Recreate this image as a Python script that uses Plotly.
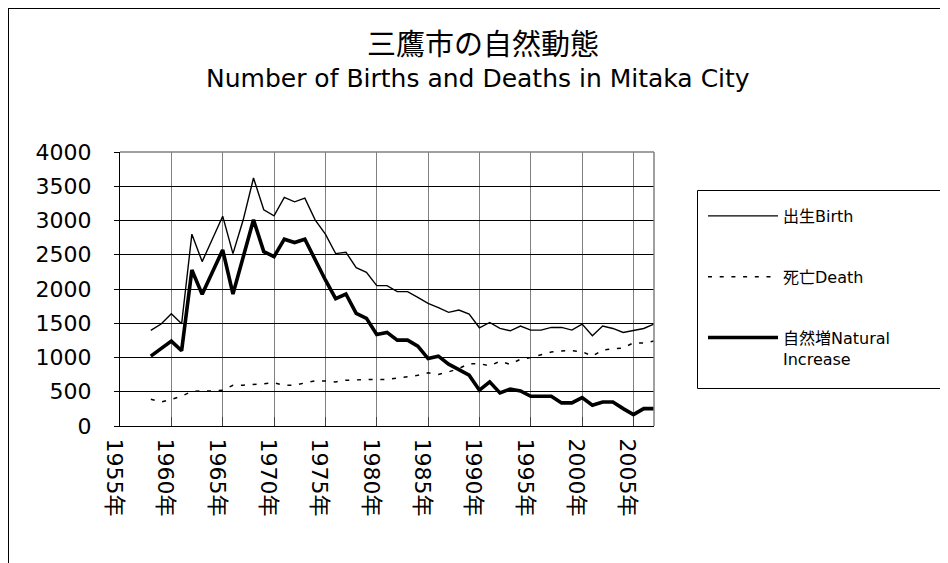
import plotly.graph_objects as go

years = list(range(1958, 2008))

birth = [1395, 1488, 1639, 1493, 2800, 2400, 2730, 3063, 2517, 3010,
         3620, 3156, 3068, 3337, 3273, 3327, 3010, 2800, 2517, 2537,
         2312, 2244, 2049, 2049, 1961, 1961, 1878, 1790, 1727, 1659,
         1693, 1634, 1434, 1512, 1424, 1390, 1459, 1400, 1400, 1439,
         1439, 1400, 1488, 1317, 1459, 1424, 1366, 1390, 1424, 1488]

death = [390, 351, 390, 434, 508, 508, 512, 522, 595, 595,
         610, 620, 629, 595, 595, 629, 658, 658, 644, 668,
         678, 678, 678, 678, 700, 720, 740, 776, 752, 790,
         840, 910, 910, 880, 945, 900, 975, 1000, 1040, 1080,
         1095, 1100, 1085, 1020, 1110, 1125, 1140, 1215, 1210, 1240]

natural = [1020, 1132, 1239, 1098, 2278, 1922, 2250, 2571, 1927, 2449,
           3010, 2546, 2473, 2727, 2678, 2727, 2424, 2132, 1858, 1927,
           1644, 1571, 1337, 1366, 1254, 1254, 1166, 985, 1019, 902,
           824, 741, 522, 644, 483, 540, 512, 434, 434, 434,
           337, 337, 415, 302, 351, 351, 254, 166, 254, 254]

tick_years = [1955, 1960, 1965, 1970, 1975, 1980, 1985, 1990, 1995, 2000, 2005]
tick_labels = ["1955年", "1960年", "1965年", "1970年", "1975年", "1980年",
               "1985年", "1990年", "1995年", "2000年", "2005年"]

series_names = ["出生Birth", "死亡Death", "自然増Natural<br>Increase"]

CJK = "Noto Sans CJK JP, sans-serif"
LAT = "DejaVu Sans, Noto Sans CJK JP, sans-serif"

W, H = 948, 563
# plot area in figure pixels
L, R, T, B = 112, 646, 144, 418

fig = go.Figure()
fig.add_trace(go.Scatter(x=years, y=birth, mode="lines", name=series_names[0],
                         line=dict(color="black", width=1.4), legendgroup="a"))
fig.add_trace(go.Scatter(x=years, y=death, mode="lines", name=series_names[1],
                         line=dict(color="black", width=1.5, dash="4px,7.7px"), legendgroup="b"))
fig.add_trace(go.Scatter(x=years, y=natural, mode="lines", name=series_names[2],
                         line=dict(color="black", width=3.6), legendgroup="c"))


def px_x(p):
    return (p - L) / (R - L)


def px_y(p):
    return (B - p) / (B - T)


fig.update_layout(
    width=W, height=H,
    margin=dict(l=L, r=W - R, t=T, b=H - B, pad=0, autoexpand=False),
    paper_bgcolor="white", plot_bgcolor="white",
    font=dict(family=CJK, color="black"),
    title=dict(text="三鷹市の自然動態", x=475 / W, xanchor="center",
               y=1 - 37 / H, yanchor="middle",
               font=dict(size=29, family=CJK, color="black")),
    showlegend=True,
    legend=dict(x=px_x(695), y=px_y(191), xanchor="left", yanchor="top",
                bgcolor="rgba(0,0,0,0)", borderwidth=0,
                font=dict(size=16, family=LAT, color="black"),
                tracegroupgap=37, itemwidth=70, traceorder="grouped",
                valign="top"),
    xaxis=dict(range=[1955, 2007], tickvals=tick_years, ticktext=tick_labels,
               tickangle=90, tickfont=dict(size=22, family=LAT, color="black"),
               ticklabelstandoff=7, ticklabelshift=-6,
               showgrid=True, gridcolor="#808080", gridwidth=1,
               showline=True, linecolor="black", linewidth=1,
               ticks="inside", ticklen=9, tickcolor="#404040", zeroline=False),
    yaxis=dict(range=[0, 4000], dtick=500, tick0=0,
               tickfont=dict(size=22, family=LAT, color="black"),
               ticklabelstandoff=18,
               showgrid=True, gridcolor="black", gridwidth=1,
               showline=True, linecolor="black", linewidth=1,
               ticks="outside", ticklen=5, tickcolor="black", zeroline=False),
    annotations=[dict(text="Number of Births and Deaths in Mitaka City",
                      xref="paper", yref="paper", x=px_x(470), y=px_y(71),
                      xanchor="center", yanchor="middle", showarrow=False,
                      font=dict(size=25, family=LAT, color="black"))],
    shapes=[
        # plot-area top and right borders (grey)
        dict(type="line", xref="paper", yref="paper", x0=0, x1=1, y0=1, y1=1,
             line=dict(color="#808080", width=1.5)),
        dict(type="line", xref="paper", yref="paper", x0=1, x1=1, y0=0, y1=1,
             line=dict(color="#808080", width=1.5)),
        # outer chart border
        dict(type="line", xref="paper", yref="paper", x0=px_x(0.5), x1=px_x(0.5),
             y0=px_y(0), y1=px_y(H + 5), line=dict(color="black", width=1)),
        dict(type="line", xref="paper", yref="paper", x0=px_x(0), x1=px_x(W + 5),
             y0=px_y(0.5), y1=px_y(0.5), line=dict(color="black", width=1)),
        # legend frame
        dict(type="rect", xref="paper", yref="paper", x0=px_x(689.5), x1=px_x(W + 20),
             y0=px_y(182.5), y1=px_y(380.5), line=dict(color="black", width=1),
             fillcolor="rgba(0,0,0,0)"),
    ],
)

fig.write_html("out.html")
